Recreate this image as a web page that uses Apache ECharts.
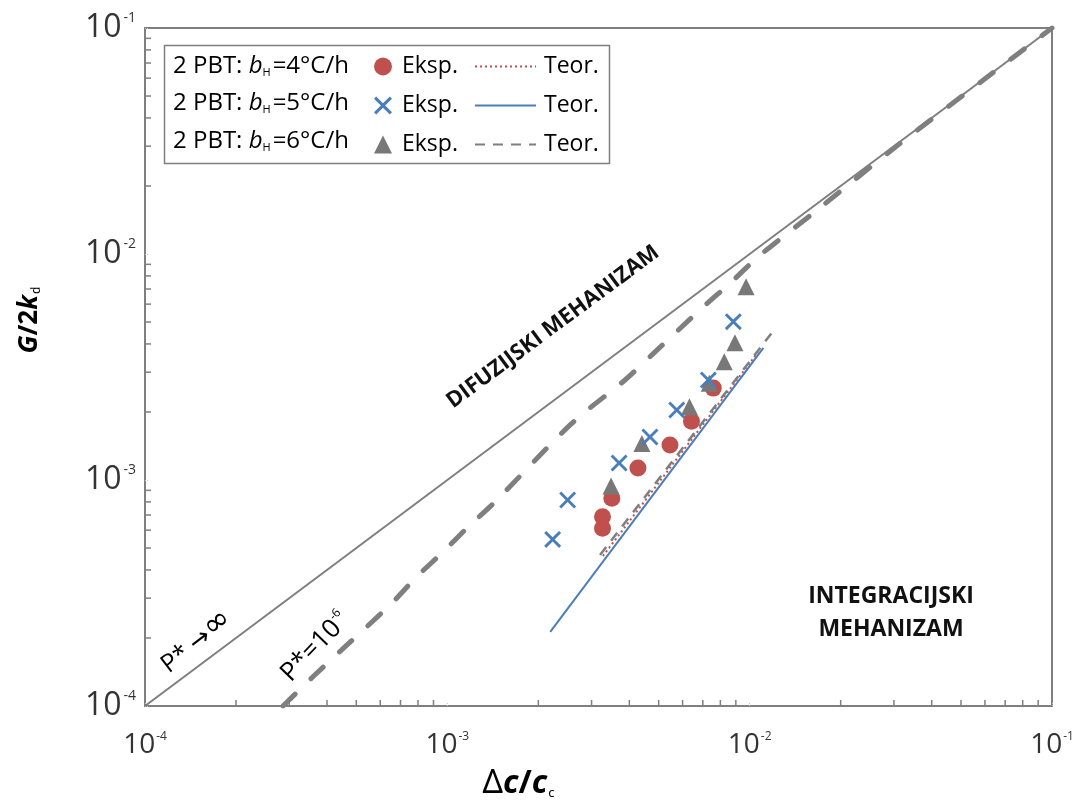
<!DOCTYPE html>
<html>
<head>
<meta charset="utf-8">
<script src="https://cdn.jsdelivr.net/npm/echarts@6/dist/echarts.min.js"></script>
<style>
html,body{margin:0;padding:0;background:#fff;}
#chart{width:1075px;height:802px;}
</style>
</head>
<body>
<div id="chart"></div>
<script>
// ---- data ----
const xTicks = [1e-4, 1e-3, 1e-2, 1e-1];
const yTicks = [1e-4, 1e-3, 1e-2, 1e-1];
const minorMultipliers = [2, 3, 4, 5, 6, 7, 8, 9];
const decadeStarts = [1e-4, 1e-3, 1e-2];

// experimental points [Δc/c_c, G/2k_d]
const expRed = [[3.26e-3, 6.11e-4], [3.26e-3, 6.88e-4], [3.50e-3, 8.30e-4], [4.27e-3, 1.13e-3], [5.45e-3, 1.43e-3], [6.42e-3, 1.82e-3], [7.58e-3, 2.55e-3]];
const expBlue = [[2.23e-3, 5.46e-4], [2.50e-3, 8.16e-4], [3.70e-3, 1.19e-3], [4.68e-3, 1.55e-3], [5.74e-3, 2.04e-3], [7.30e-3, 2.77e-3], [8.83e-3, 5.02e-3]];
const expGray = [[3.48e-3, 9.41e-4], [4.40e-3, 1.45e-3], [6.32e-3, 2.11e-3], [7.35e-3, 2.68e-3], [8.24e-3, 3.34e-3], [8.94e-3, 4.05e-3], [9.73e-3, 7.17e-3]];

// theoretical lines
const teorRed = [[3.27e-3, 4.61e-4], [1.066e-2, 3.68e-3]];
const teorBlue = [[2.19e-3, 2.13e-4], [1.11e-2, 3.84e-3]];
const teorGray = [[3.20e-3, 4.66e-4], [1.19e-2, 4.52e-3]];

// limiting curves
const pInfLine = [[1e-4, 1e-4], [1e-1, 1e-1]];
const pStarCurve = [[2.86e-4, 1e-4], [3.60e-4, 1.35e-4], [4.47e-4, 1.77e-4], [5.41e-4, 2.24e-4], [6.55e-4, 2.85e-4], [7.92e-4, 3.73e-4], [9.70e-4, 4.82e-4], [1.173e-3, 6.21e-4], [1.44e-3, 8.02e-4], [2.58e-3, 1.78e-3], [3.87e-3, 2.77e-3], [4.74e-3, 3.57e-3], [7.03e-3, 5.84e-3], [8.72e-3, 7.54e-3], [1.068e-2, 9.73e-3], [1.645e-2, 1.539e-2], [3.10e-2, 3.04e-2], [5.93e-2, 5.89e-2], [1e-1, 1e-1]];

const rowLabels = ['4', '5', '6'];

// ---- build ----
const minorTickValues = [];
decadeStarts.forEach(d => minorMultipliers.forEach(m => minorTickValues.push(+(d * m).toPrecision(3))));

const GRAY = '#7f7f7f';
const RED = '#c0504d';
const BLUE = '#4a7ebb';
const FONT = 'Open Sans';
const NONE = 'rgba(0,0,0,0)';
const CROSS = 'path://M0,1.2L1.2,0L5,3.8L8.8,0L10,1.2L6.2,5L10,8.8L8.8,10L5,6.2L1.2,10L0,8.8L3.8,5Z';

const chart = echarts.init(document.getElementById('chart'), null, {renderer: 'canvas'});

function tickLabel(v) {
  const e = Math.round(Math.log10(v));
  return '{b|10}{s|' + e + '}';
}
const yTickRich = {
  b: {fontFamily: FONT, fontSize: 32, color: '#333'},
  s: {fontFamily: FONT, fontSize: 14, color: '#333', padding: [0, 0, 19, 2]}
};
const xTickRich = {
  b: {fontFamily: FONT, fontSize: 28, color: '#333'},
  s: {fontFamily: FONT, fontSize: 12, color: '#333', padding: [0, 0, 17, 1]}
};

const option = {
  animation: false,
  backgroundColor: '#fff',
  grid: {left: 145, top: 28, right: 23, bottom: 96, outerBoundsMode: 'none', containLabel: false,
    show: true, borderColor: GRAY, borderWidth: 2, backgroundColor: 'transparent'},
  xAxis: {
    type: 'log', logBase: 10, min: xTicks[0], max: xTicks[xTicks.length - 1],
    axisLine: {show: true, lineStyle: {color: GRAY, width: 2}},
    axisTick: {show: true, inside: true, length: 3, lineStyle: {color: '#c8c8c8', width: 1, type: 'dotted'}},
    splitLine: {show: false},
    minorTick: {show: false},
    axisLabel: {formatter: tickLabel, rich: xTickRich, margin: 25},
    name: '{n|Δ}{bi|c}{b|/}{bi|c}{sub|c}',
    nameLocation: 'middle', nameGap: 61,
    nameTextStyle: {
      padding: [0, 160, 0, 0],
      rich: {
        n: {fontFamily: 'Noto Sans', fontSize: 32, color: '#000'},
        bi: {fontFamily: 'Noto Sans', fontSize: 32, fontWeight: 'bold', fontStyle: 'italic', color: '#000'},
        b: {fontFamily: 'Noto Sans', fontSize: 32, fontWeight: 'bold', color: '#000'},
        sub: {fontFamily: 'Noto Sans', fontSize: 13, color: '#000', padding: [20, 0, 0, 1]}
      }
    }
  },
  yAxis: {
    type: 'log', logBase: 10, min: yTicks[0], max: yTicks[yTicks.length - 1],
    axisLine: {show: true, lineStyle: {color: GRAY, width: 2}},
    axisTick: {show: true, inside: true, length: 3, lineStyle: {color: '#c8c8c8', width: 1, type: 'dotted'}},
    splitLine: {show: false},
    minorTick: {show: false},
    axisLabel: {formatter: tickLabel, rich: yTickRich, margin: 9},
    name: '{bi|G}{b|/2}{bi|k}{sub|d}',
    nameLocation: 'middle', nameGap: 102, nameRotate: 90,
    nameTextStyle: {
      padding: [0, 0, 0, 94],
      rich: {
        bi: {fontFamily: 'Noto Sans', fontSize: 26, fontWeight: 'bold', fontStyle: 'italic', color: '#000'},
        b: {fontFamily: 'Noto Sans', fontSize: 26, fontWeight: 'bold', color: '#000'},
        sub: {fontFamily: 'Noto Sans', fontSize: 12, color: '#000', padding: [15, 0, 0, 1]}
      }
    }
  },
  legend: [
    {
      data: ['eksp4', 'eksp5', 'eksp6'],
      orient: 'vertical', left: 374, top: 55, padding: 0,
      itemWidth: 18, itemHeight: 18, itemGap: 16,
      selectedMode: false,
      formatter: () => 'Eksp.',
      textStyle: {fontFamily: FONT, fontSize: 23, color: '#000', padding: [0, 0, 0, 5]}
    },
    {
      data: ['teor4', 'teor5', 'teor6'],
      orient: 'vertical', left: 474, top: 55, padding: 0,
      itemWidth: 61, itemHeight: 18, itemGap: 16,
      selectedMode: false,
      formatter: () => 'Teor.',
      textStyle: {fontFamily: FONT, fontSize: 23, color: '#000', padding: [0, 0, 0, 3]}
    }
  ],
  graphic: [
    {type: 'rect', left: 162, top: 43, shape: {width: 445, height: 118}, style: {fill: 'none', stroke: GRAY, lineWidth: 1.5}, z: 10},
    ...rowLabels.map((r, i) => ({
      type: 'text', x: 173, y: 66 + i * 37.5, z: 11,
      style: {
        text: '2 PBT: {i|b}{sub|H}=' + r + '°C/h',
        fontFamily: FONT, fontSize: 24, fill: '#000', verticalAlign: 'middle', align: 'left',
        rich: {
          i: {fontFamily: FONT, fontSize: 24, fontStyle: 'italic', fill: '#000'},
          sub: {fontFamily: FONT, fontSize: 11, fill: '#000', padding: [13, 2, 0, 0]}
        }
      }
    })),
    {type: 'text', x: 197, y: 643, rotation: 37.5 * Math.PI / 180, z: 11,
      style: {text: 'P*{a|→}{i|∞}', fontFamily: FONT, fontSize: 25, fill: '#000', align: 'center', verticalAlign: 'middle',
        rich: {a: {fontFamily: 'DejaVu Sans', fontSize: 25, fill: '#000', padding: [0, 0, 0, 6]},
               i: {fontFamily: 'DejaVu Sans', fontSize: 32, fill: '#000', padding: [0, 0, 6, 0]}}}},
    {type: 'text', x: 315, y: 647, rotation: 46 * Math.PI / 180, z: 11,
      style: {text: 'P*=10{s|-6}', fontFamily: FONT, fontSize: 26, fill: '#000', align: 'center', verticalAlign: 'middle',
        rich: {s: {fontFamily: FONT, fontSize: 12, fill: '#000', padding: [0, 0, 16, 0]}}}},
    {type: 'text', x: 553, y: 327, rotation: 36.5 * Math.PI / 180, z: 11,
      style: {text: 'DIFUZIJSKI MEHANIZAM', fontFamily: FONT, fontWeight: 'bold', fontSize: 22, fill: '#111', align: 'center', verticalAlign: 'middle'}},
    {type: 'text', x: 891, y: 613, z: 11,
      style: {text: 'INTEGRACIJSKI\nMEHANIZAM', fontFamily: FONT, fontWeight: 'bold', fontSize: 23, lineHeight: 33, fill: '#111', align: 'center', verticalAlign: 'middle'}}
  ],
  series: [
    {type: 'line', name: 'pinf', data: pInfLine, symbol: 'none', lineStyle: {color: GRAY, width: 2}, z: 2, silent: true},
    {type: 'line', name: 'pstar', data: pStarCurve, symbol: 'none', smooth: 0.3, lineStyle: {color: GRAY, width: 5, type: [17, 22], cap: 'round'}, z: 2, silent: true},
    {type: 'line', name: 'teor4', data: teorRed, symbol: 'none', lineStyle: {color: RED, width: 2, type: [2, 3]}, itemStyle: {color: NONE, borderColor: NONE, borderWidth: 0}, z: 3},
    {type: 'line', name: 'teor5', data: teorBlue, symbol: 'none', lineStyle: {color: BLUE, width: 2}, itemStyle: {color: NONE, borderColor: NONE, borderWidth: 0}, z: 3},
    {type: 'line', name: 'teor6', data: teorGray, symbol: 'none', lineStyle: {color: GRAY, width: 2.5, type: [10, 8]}, itemStyle: {color: NONE, borderColor: NONE, borderWidth: 0}, z: 3},
    {type: 'scatter', name: 'eksp4', data: expRed, symbol: 'circle', symbolSize: 17, itemStyle: {color: RED, opacity: 1}, z: 4},
    {type: 'scatter', name: 'eksp6', data: expGray, symbol: 'triangle', symbolSize: 17, itemStyle: {color: '#787878', opacity: 1}, z: 5},
    {type: 'scatter', name: 'eksp5', data: expBlue, symbol: CROSS, symbolSize: 17, itemStyle: {color: BLUE, opacity: 1}, z: 6},
    {
      type: 'custom', name: 'xMinor', silent: true, clip: false, z: 7,
      data: minorTickValues.map(v => [v, yTicks[0]]),
      renderItem: (params, api) => {
        const p = api.coord([api.value(0), api.value(1)]);
        return {type: 'line', shape: {x1: p[0], y1: p[1], x2: p[0], y2: p[1] - 6}, style: {stroke: GRAY, lineWidth: 1.5}};
      }
    },
    {
      type: 'custom', name: 'yMinor', silent: true, clip: false, z: 7,
      data: minorTickValues.map(v => [xTicks[0], v]),
      renderItem: (params, api) => {
        const p = api.coord([api.value(0), api.value(1)]);
        return {type: 'line', shape: {x1: p[0], y1: p[1], x2: p[0] + 6, y2: p[1]}, style: {stroke: GRAY, lineWidth: 1.5}};
      }
    }
  ]
};
chart.setOption(option);
</script>
</body>
</html>
